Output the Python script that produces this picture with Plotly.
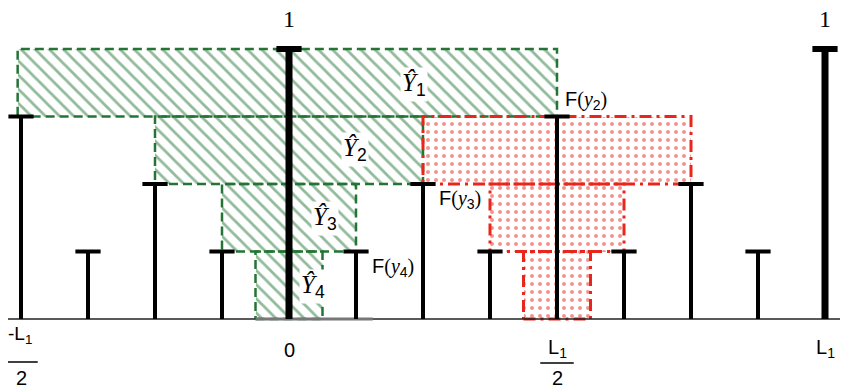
import plotly.graph_objects as go

# ---- data ----
stem_pos = [-4, -3, -2, -1, 0, 1, 2, 3, 4, 5, 6, 7, 8]          # in units of L1/8
stem_h = [0.75, 0.25, 0.5, 0.25, 1.0, 0.25, 0.5, 0.25, 0.75, 0.25, 0.5, 0.25, 1.0]
thick_pos = [0, 8]

green_names = ["1", "2", "3", "4"]
green_left = [-4.05, -2.0, -1.0, -0.5]
green_right = [4.0, 2.0, 1.0, 0.5]
green_bottom = [0.75, 0.5, 0.25, 0.0]
green_top = [1.0, 0.75, 0.5, 0.25]
green_label_x = [1.87, 0.99, 0.54, 0.36]
green_label_y = [0.867, 0.626, 0.374, 0.12]

red_left = [2.0, 3.0, 3.5]
red_right = [6.0, 5.0, 4.5]
red_bottom = [0.5, 0.25, 0.0]
red_top = [0.75, 0.5, 0.25]

f_names = ["2", "3", "4"]
f_x = [4.09, 2.21, 1.21]
f_y = [0.81, 0.444, 0.19]

GREEN = "#247535"
RED = "#e8261c"

fig = go.Figure()

def rect_path(l, r, b, t):
    return [l, r, r, l, l], [b, b, t, t, b]

# green hatched fills
fig.add_trace(go.Bar(
    x=[(l + r) / 2 for l, r in zip(green_left, green_right)],
    width=[r - l for l, r in zip(green_left, green_right)],
    base=green_bottom,
    y=[t - b for t, b in zip(green_top, green_bottom)],
    marker=dict(color="white", line=dict(width=0),
                pattern=dict(shape="\\", fgcolor=GREEN, bgcolor="white", size=10, solidity=0.28)),
    hoverinfo="skip"))
# red dotted fills
fig.add_trace(go.Bar(
    x=[(l + r) / 2 for l, r in zip(red_left, red_right)],
    width=[r - l for l, r in zip(red_left, red_right)],
    base=red_bottom,
    y=[t - b for t, b in zip(red_top, red_bottom)],
    marker=dict(color="white", line=dict(width=0),
                pattern=dict(shape=".", fgcolor=RED, bgcolor="white", size=8, solidity=0.2)),
    hoverinfo="skip"))

# outlines
gx, gy = [], []
for l, r, b, t in zip(green_left, green_right, green_bottom, green_top):
    px, py = rect_path(l, r, b, t)
    gx += px + [None]; gy += py + [None]
fig.add_trace(go.Scatter(x=gx, y=gy, mode="lines",
                         line=dict(color=GREEN, width=2.5, dash="9px,5px"), hoverinfo="skip"))
rx, ry = [], []
for l, r, b, t in zip(red_left, red_right, red_bottom, red_top):
    px, py = rect_path(l, r, b, t)
    rx += px + [None]; ry += py + [None]
fig.add_trace(go.Scatter(x=rx, y=ry, mode="lines",
                         line=dict(color=RED, width=3, dash="12px,5px,3px,5px"), hoverinfo="skip"))

# baseline
fig.add_trace(go.Scatter(x=[-4.24, 8.27], y=[0, 0], mode="lines",
                         line=dict(color="#222", width=1.5), hoverinfo="skip"))
fig.add_trace(go.Scatter(x=[-0.5, 1.25], y=[0, 0], mode="lines",
                         line=dict(color="#777", width=3), hoverinfo="skip"))

# stems
thin_x, thin_y, thick_x, thick_y = [], [], [], []
for p, h in zip(stem_pos, stem_h):
    if p in thick_pos:
        thick_x += [p, p, None]; thick_y += [0, h, None]
    else:
        thin_x += [p, p, None]; thin_y += [0, h, None]
fig.add_trace(go.Scatter(x=thin_x, y=thin_y, mode="lines",
                         line=dict(color="black", width=4), hoverinfo="skip"))
fig.add_trace(go.Scatter(x=thick_x, y=thick_y, mode="lines",
                         line=dict(color="black", width=7), hoverinfo="skip"))
# caps
fig.add_trace(go.Scatter(
    x=[p for p in stem_pos if p not in thick_pos],
    y=[h for p, h in zip(stem_pos, stem_h) if p not in thick_pos],
    mode="markers", marker=dict(symbol="line-ew", size=18, line=dict(width=4, color="black")),
    hoverinfo="skip"))
fig.add_trace(go.Scatter(
    x=[p for p in stem_pos if p in thick_pos],
    y=[h for p, h in zip(stem_pos, stem_h) if p in thick_pos],
    mode="markers", marker=dict(symbol="line-ew", size=18, line=dict(width=6, color="black")),
    hoverinfo="skip"))

SERIF = "Liberation Serif"
SANS = "Liberation Sans"

ann = []
for n, x, y in zip(green_names, green_label_x, green_label_y):
    ann.append(dict(x=x, y=y, xref="x", yref="y", showarrow=False,
                    text=f"<i>Ŷ</i><span style='font-family:{SANS}'><sub>{n}</sub></span>",
                    font=dict(family=SERIF, size=25, color="black"),
                    bgcolor="white", borderpad=1))
for n, x, y in zip(f_names, f_x, f_y):
    ann.append(dict(x=x, y=y, xref="x", yref="y", showarrow=False, xanchor="left",
                    text=f"F<span style='font-family:{SERIF}'>(<i>y</i></span><sub>{n}</sub><span style='font-family:{SERIF}'>)</span>",
                    font=dict(family=SANS, size=20, color="black")))
for x in thick_pos:
    ann.append(dict(x=x, y=1.112, xref="x", yref="y", showarrow=False, text="1",
                    font=dict(family=SERIF, size=24, color="black")))

# bottom tick labels
ann.append(dict(x=0, y=-0.115, xref="x", yref="y", showarrow=False, text="0",
                font=dict(family=SANS, size=20, color="black")))
ann.append(dict(x=8, y=-0.11, xref="x", yref="y", showarrow=False, text="L<sub>1</sub>",
                font=dict(family=SANS, size=20, color="black")))
ann.append(dict(x=-4.02, y=-0.058, xref="x", yref="y", showarrow=False, text="-L<sub>1</sub>",
                font=dict(family=SANS, size=19, color="black")))
ann.append(dict(x=-4, y=-0.218, xref="x", yref="y", showarrow=False, text="2",
                font=dict(family=SANS, size=20, color="black")))
ann.append(dict(x=4, y=-0.11, xref="x", yref="y", showarrow=False, text="L<sub>1</sub>",
                font=dict(family=SANS, size=20, color="black")))
ann.append(dict(x=4, y=-0.218, xref="x", yref="y", showarrow=False, text="2",
                font=dict(family=SANS, size=20, color="black")))

shapes = [
    dict(type="line", xref="x", yref="y", x0=-4.25, x1=-3.75, y0=-0.159, y1=-0.159,
         line=dict(color="black", width=1.5)),
    dict(type="line", xref="x", yref="y", x0=3.75, x1=4.25, y0=-0.163, y1=-0.163,
         line=dict(color="black", width=1.5)),
]

# page body has an 8px margin: figure occupies screen px 8..848 x 8..389
fig.update_layout(
    width=840, height=381,
    margin=dict(l=0, r=0, t=0, b=0),
    plot_bgcolor="white", paper_bgcolor="white",
    showlegend=False, barmode="overlay", bargap=0,
    xaxis=dict(range=[(8 - 289) / 67, (848 - 289) / 67], visible=False, fixedrange=True),
    yaxis=dict(range=[(319 - 389) / 270, (319 - 8) / 270], visible=False, fixedrange=True),
    annotations=ann, shapes=shapes,
)

fig.write_html("out.html")
